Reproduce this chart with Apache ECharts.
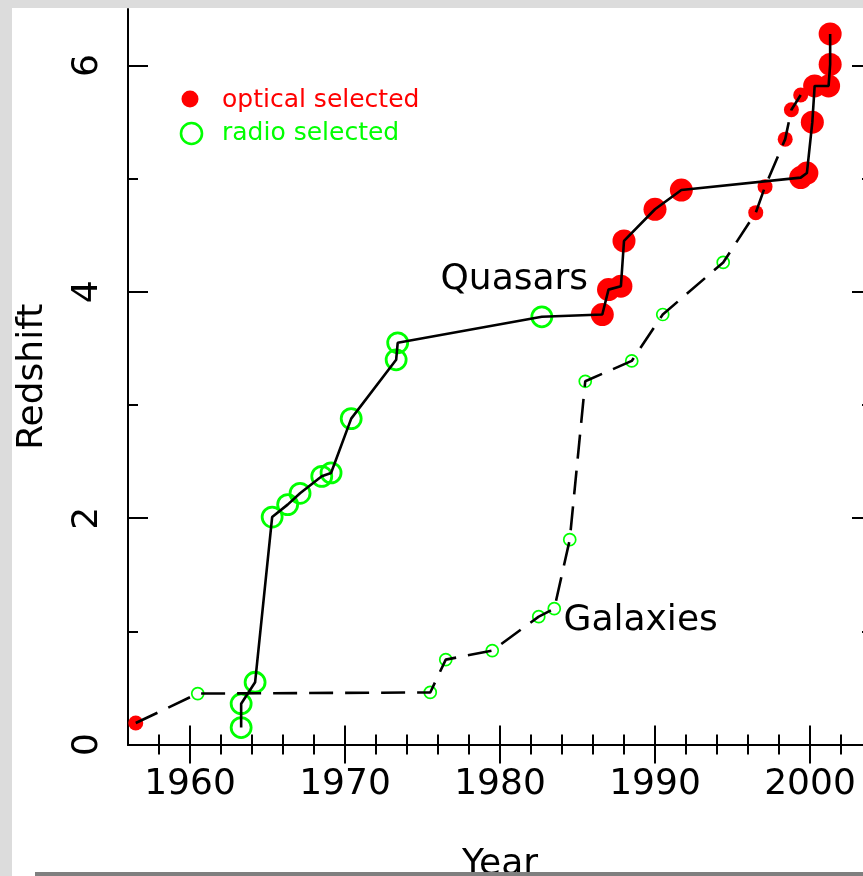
<!DOCTYPE html>
<html><head><meta charset="utf-8">
<script src="https://cdn.jsdelivr.net/npm/echarts@6/dist/echarts.min.js"></script>
<style>
html,body{margin:0;padding:0;background:#dcdcdc;overflow:hidden;width:863px;height:876px;}
#panel{position:absolute;left:12px;top:8px;width:851px;height:868px;background:#fff;}
#chart{position:absolute;left:0;top:0;width:863px;height:876px;}
#bar{position:absolute;left:35px;top:872px;width:828px;height:4px;background:#7f7f7f;}
</style></head><body>
<div id="panel"></div><div id="chart"></div><div id="bar"></div>
<script>
// ---- data ----
const quasarYear = [1963.3,1963.3,1964.2,1965.3,1966.3,1967.1,1968.5,1969.1,1970.4,1973.3,1973.4,1982.7,
                    1986.6,1987.0,1987.8,1988.0,1990.0,1991.7,1999.4,1999.8,2000.15,2000.3,2001.2,2001.3,2001.3];
const quasarZ    = [0.15,0.36,0.55,2.01,2.12,2.22,2.37,2.40,2.88,3.40,3.55,3.78,
                    3.80,4.02,4.05,4.45,4.73,4.90,5.01,5.05,5.50,5.82,5.82,6.01,6.28];
const quasarSel  = ['radio','radio','radio','radio','radio','radio','radio','radio','radio','radio','radio','radio',
                    'optical','optical','optical','optical','optical','optical','optical','optical','optical','optical','optical','optical','optical'];

const galaxyYear = [1956.5,1960.5,1975.5,1976.5,1979.5,1982.5,1983.5,1984.5,1985.5,1988.5,1990.5,1994.4,
                    1996.5,1997.1,1998.4,1998.8,1999.4];
const galaxyZ    = [0.19,0.45,0.46,0.75,0.83,1.13,1.20,1.81,3.21,3.39,3.80,4.26,
                    4.70,4.93,5.35,5.61,5.74];
const galaxySel  = ['optical','radio','radio','radio','radio','radio','radio','radio','radio','radio','radio','radio',
                    'optical','optical','optical','optical','optical'];

const xMajorTicks = [1960,1970,1980,1990,2000];
const xMinorTicks = [1958,1962,1964,1966,1968,1972,1974,1976,1978,1982,1984,1986,1988,1992,1994,1996,1998,2002];
const yMajorTicks = [0,2,4,6];
const yMinorTicks = [1,3,5];

const annotationText = ['Quasars','Galaxies'];
const annotationYear = [1976.16,1984.1];
const annotationZ    = [4.106,1.097];

const legendText = ['optical selected','radio selected'];

// ---- helpers ----
const pts = (xs, ys, sel, want) => xs.map((x,i)=>[x, ys[i], sel[i]]).filter(p => !want || p[2]===want).map(p=>[p[0],p[1]]);
const FONT = 'DejaVu Sans';
const RED = '#ff0000', GREEN = '#00ff00';
const plain = v => String(v);
const axisCommon = {type:'value', min:1956, max:2004, splitLine:{show:false}};
const yCommon = {type:'value', min:0, max:6.5, splitLine:{show:false}};
const lineSt = {color:'#000', width:2};

const chart = echarts.init(document.getElementById('chart'), null, {renderer:'canvas'});
chart.setOption({
  animation:false,
  backgroundColor:'transparent',
  grid:{left:128, right:-9, top:9, bottom:131.5, containLabel:false, outerBoundsMode:'none'},
  xAxis:[
    Object.assign({}, axisCommon, {position:'bottom', axisLine:{show:true, lineStyle:lineSt},
      axisTick:{show:true, inside:true, length:19, lineStyle:lineSt, customValues:xMajorTicks},
      axisLabel:{show:true, customValues:xMajorTicks, formatter:plain, margin:22, color:'#000', fontSize:36, fontFamily:FONT},
      name:'Year', nameLocation:'middle', nameGap:102, nameTextStyle:{color:'#000', fontSize:36, fontFamily:FONT}}),
    Object.assign({}, axisCommon, {position:'bottom', axisLine:{show:false},
      axisTick:{show:true, inside:true, length:10, lineStyle:lineSt, customValues:xMinorTicks},
      axisLabel:{show:false}}),
    Object.assign({}, axisCommon, {position:'top', axisLine:{show:true, lineStyle:lineSt},
      axisTick:{show:true, inside:true, length:19, lineStyle:lineSt, customValues:xMajorTicks},
      axisLabel:{show:false}}),
    Object.assign({}, axisCommon, {position:'top', axisLine:{show:false},
      axisTick:{show:true, inside:true, length:10, lineStyle:lineSt, customValues:xMinorTicks},
      axisLabel:{show:false}})
  ],
  yAxis:[
    Object.assign({}, yCommon, {position:'left', axisLine:{show:true, lineStyle:lineSt},
      axisTick:{show:true, inside:true, length:20, lineStyle:lineSt, customValues:yMajorTicks},
      axisLabel:{show:true, customValues:yMajorTicks, formatter:plain, rotate:90, margin:22, color:'#000', fontSize:36, fontFamily:FONT},
      name:'Redshift', nameLocation:'middle', nameGap:77, nameRotate:90, nameTextStyle:{color:'#000', fontSize:36, fontFamily:FONT}}),
    Object.assign({}, yCommon, {position:'left', axisLine:{show:false},
      axisTick:{show:true, inside:true, length:10, lineStyle:lineSt, customValues:yMinorTicks},
      axisLabel:{show:false}}),
    Object.assign({}, yCommon, {position:'right', axisLine:{show:true, lineStyle:lineSt},
      axisTick:{show:true, inside:true, length:20, lineStyle:lineSt, customValues:yMajorTicks},
      axisLabel:{show:false}}),
    Object.assign({}, yCommon, {position:'right', axisLine:{show:false},
      axisTick:{show:true, inside:true, length:10, lineStyle:lineSt, customValues:yMinorTicks},
      axisLabel:{show:false}})
  ],
  graphic:[
    {type:'circle', left:181.5, top:90.5, shape:{r:8.5}, style:{fill:RED}},
    {type:'circle', left:178.5, top:120.5, shape:{r:10.5}, style:{fill:'none', stroke:GREEN, lineWidth:2.6}},
    {type:'text', left:222, top:88, style:{text:legendText[0], fill:RED, fontSize:25, fontFamily:FONT}},
    {type:'text', left:222, top:121, style:{text:legendText[1], fill:GREEN, fontSize:25, fontFamily:FONT}}
  ],
  series:[
    {type:'scatter', name:'quasar radio', data:pts(quasarYear, quasarZ, quasarSel, 'radio'), symbol:'circle', symbolSize:20,
     itemStyle:{color:'rgba(0,0,0,0)', borderColor:GREEN, borderWidth:2.8, opacity:1}, z:2, silent:true},
    {type:'scatter', name:'quasar optical', data:pts(quasarYear, quasarZ, quasarSel, 'optical'), symbol:'circle', symbolSize:23,
     itemStyle:{color:RED, opacity:1}, z:2, silent:true},
    {type:'scatter', name:'galaxy radio', data:pts(galaxyYear, galaxyZ, galaxySel, 'radio'), symbol:'circle', symbolSize:12,
     itemStyle:{color:'rgba(0,0,0,0)', borderColor:GREEN, borderWidth:1.7, opacity:1}, z:2, silent:true},
    {type:'scatter', name:'galaxy optical', data:pts(galaxyYear, galaxyZ, galaxySel, 'optical'), symbol:'circle', symbolSize:15,
     itemStyle:{color:RED, opacity:1}, z:2, silent:true},
    {type:'line', name:'Quasars', data:pts(quasarYear, quasarZ, quasarSel), showSymbol:false, symbol:'none',
     lineStyle:{color:'#000', width:2.6, type:'solid'}, z:3, silent:true},
    {type:'line', name:'Galaxies', data:pts(galaxyYear, galaxyZ, galaxySel), showSymbol:false, symbol:'none',
     lineStyle:{color:'#000', width:2.6, type:[24,12]}, z:3, silent:true},
    {type:'scatter', name:'annotations', symbolSize:0, silent:true, z:4, itemStyle:{color:'#000'},
     data:annotationText.map((t,i)=>({name:t, value:[annotationYear[i], annotationZ[i]]})),
     label:{show:true, position:'right', distance:0, formatter:p=>p.name, color:'#000', opacity:1, fontSize:36, fontFamily:FONT}}
  ]
});
</script>
</body></html>
